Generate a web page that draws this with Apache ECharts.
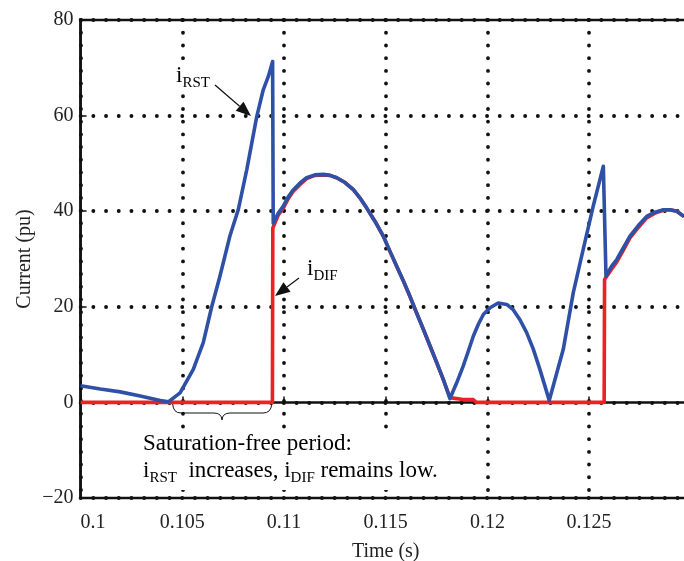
<!DOCTYPE html>
<html>
<head>
<meta charset="utf-8">
<script src="https://cdn.jsdelivr.net/npm/echarts@6/dist/echarts.min.js"></script>
<style>html,body{margin:0;padding:0;background:#fff}#c{width:684px;height:561px}</style>
</head>
<body>
<div id="c"></div>
<script>
// Time (s)
const rstTime = [0.1,0.10097,0.10195,0.10293,0.10392,0.10433,0.10489,0.10554,0.10603,0.10644,0.10685,0.10734,0.10775,0.10817,0.10866,0.10898,0.10923,0.10944,0.10947,0.10972,0.10996,0.11021,0.11046,0.11079,0.11111,0.11152,0.11193,0.11226,0.11259,0.11300,0.11341,0.11373,0.11406,0.11447,0.11488,0.11521,0.11554,0.11587,0.11619,0.11652,0.11685,0.11718,0.11751,0.11783,0.11816,0.11849,0.11881,0.11906,0.11931,0.11955,0.11980,0.12013,0.12053,0.12095,0.12127,0.12160,0.12193,0.12226,0.12258,0.12283,0.12304,0.12373,0.12422,0.12471,0.12520,0.12570,0.12583,0.12611,0.12636,0.12668,0.12701,0.12742,0.12783,0.12824,0.12865,0.12898,0.12931,0.12967];
// i_RST (pu)
const rstValue = [3.5,2.8,2.2,1.35,0.4,0.15,2.0,6.9,12.5,19.9,26.4,34.8,40.3,48.7,59.8,65.4,68.2,71.3,37.5,39.6,41.0,43.0,44.5,45.9,47.0,47.6,47.7,47.5,47.0,46.0,44.5,42.8,40.7,37.9,34.8,31.6,28.5,25.4,22.2,18.7,15.3,11.8,8.3,4.8,0.8,4.1,7.6,10.7,13.9,16.3,18.4,19.8,20.8,20.5,19.4,17.3,14.6,11.1,6.9,3.4,0.4,11.1,22.9,32.0,41.0,49.4,26.4,28.5,29.9,32.3,34.8,37.0,38.9,39.8,40.3,40.3,40.0,38.9];
// Time (s)
const difTime = [0.1,0.10943,0.10945,0.10972,0.10996,0.11021,0.11046,0.11079,0.11111,0.11152,0.11193,0.11226,0.11259,0.11300,0.11341,0.11373,0.11406,0.11447,0.11488,0.11521,0.11554,0.11587,0.11619,0.11652,0.11685,0.11718,0.11751,0.11783,0.11816,0.11880,0.11930,0.11945,0.12574,0.12576,0.12611,0.12636,0.12668,0.12701,0.12742,0.12783,0.12824,0.12865,0.12898,0.12931,0.12967];
// i_DIF (pu)
const difValue = [0,0,36.5,39.2,40.6,42.6,44.2,45.6,46.8,47.5,47.6,47.5,47.0,46.0,44.5,42.8,40.7,37.9,34.8,31.6,28.5,25.4,22.2,18.7,15.3,11.8,8.3,4.8,1.0,0.6,0.6,0,0,25.7,27.9,29.4,31.8,34.4,36.6,38.6,39.6,40.2,40.3,40.0,38.9];
const xTicks = {min:0.1, max:0.13, step:0.005};
const yTicks = {min:-20, max:80, step:20};

const FONT = 'Liberation Serif';
const chart = echarts.init(document.getElementById('c'));
const rst = rstTime.map((t,i)=>[t,rstValue[i]]);
const dif = difTime.map((t,i)=>[t,difValue[i]]);
const gridDots = {show:true, lineStyle:{color:'#111', width:3.8, type:[0.1,12.6], cap:'round'}};

chart.setOption({
  animation:false,
  grid:{left:80.6, top:20, right:-6.8, bottom:63, show:true, borderColor:'#111', borderWidth:2.5,
    containLabel:false, outerBoundsMode:'none'},
  xAxis:{type:'value', min:xTicks.min, max:xTicks.max, interval:xTicks.step,
    name:'Time (s)', nameLocation:'middle', nameGap:44, nameMoveOverlap:false,
    nameTextStyle:{fontFamily:FONT, fontSize:20, color:'#222'},
    axisLine:{lineStyle:{color:'#111', width:2.5}},
    axisTick:{inside:true, length:6, lineStyle:{color:'#111', width:1.5}},
    axisLabel:{fontFamily:FONT, fontSize:20, color:'#222', margin:15, showMaxLabel:false, alignMinLabel:'left',
      formatter:v=>String(+v.toFixed(3))},
    splitLine:gridDots},
  yAxis:{type:'value', min:yTicks.min, max:yTicks.max, interval:yTicks.step,
    name:'Current (pu)', nameLocation:'middle', nameGap:46, nameMoveOverlap:false,
    nameTextStyle:{fontFamily:FONT, fontSize:20, color:'#222'},
    axisLine:{lineStyle:{color:'#111', width:2.5}},
    axisTick:{inside:true, length:6, lineStyle:{color:'#111', width:1.5}},
    axisLabel:{fontFamily:FONT, fontSize:20, color:'#222', margin:7,
      formatter:v=>String(v).replace('-','\u2212')},
    splitLine:gridDots},
  series:[
    {name:'iDIF', type:'line', data:dif, showSymbol:false, lineStyle:{color:'#EC2027', width:3.6, join:'round'}, z:3},
    {name:'iRST', type:'line', data:rst, showSymbol:false, lineStyle:{color:'#2E50A6', width:3.6, join:'round'}, z:4}
  ]
});

function arrow(x1,y1,x2,y2){
  const dx=x2-x1, dy=y2-y1, L=Math.hypot(dx,dy), ux=dx/L, uy=dy/L;
  const hl=15, hw=6;
  const bx=x2-ux*hl, by=y2-uy*hl;
  return [
    {type:'line', shape:{x1:x1,y1:y1,x2:bx,y2:by}, style:{stroke:'#111', lineWidth:1.2}, z:10},
    {type:'polygon', shape:{points:[[x2,y2],[bx-uy*hw,by+ux*hw],[bx+uy*hw,by-ux*hw]]}, style:{fill:'#111'}, z:10}
  ];
}
const rich = {
  n:{fontFamily:FONT, fontSize:23, color:'#222', verticalAlign:'top', lineHeight:27},
  s:{fontFamily:FONT, fontSize:15, color:'#222', verticalAlign:'bottom', lineHeight:15, padding:[14,0,0,0]}
};
const braceStyle = {stroke:'#111', lineWidth:1, fill:null};
chart.setOption({graphic:[
  {type:'text', left:174, top:62, style:{text:'{n|i}{s|RST}', rich:rich, backgroundColor:'#fff', padding:[2,2,0,2]}, z:9},
  ...arrow(215,85,251,116),
  {type:'text', left:305, top:255, style:{text:'{n|i}{s|DIF}', rich:rich, backgroundColor:'#fff', padding:[2,2,0,2]}, z:9},
  ...arrow(299,278,275,296),
  {type:'bezierCurve', shape:{x1:172.7,y1:404,cpx1:173.2,cpy1:413,x2:181,y2:413}, style:braceStyle, z:10},
  {type:'line', shape:{x1:181,y1:413,x2:214,y2:413}, style:braceStyle, z:10},
  {type:'bezierCurve', shape:{x1:214,y1:413,cpx1:221.5,cpy1:413,x2:222,y2:420}, style:braceStyle, z:10},
  {type:'bezierCurve', shape:{x1:222,y1:420,cpx1:222.5,cpy1:413,x2:230,y2:413}, style:braceStyle, z:10},
  {type:'line', shape:{x1:230,y1:413,x2:263,y2:413}, style:braceStyle, z:10},
  {type:'bezierCurve', shape:{x1:263,y1:413,cpx1:271.2,cpy1:413,x2:271.7,y2:404}, style:braceStyle, z:10},
  {type:'text', left:141, top:429, style:{text:'{n|Saturation-free period:}\n{n|i}{s|RST}{n|  increases, i}{s|DIF}{n| remains low.}', rich:rich, backgroundColor:'#fff', padding:[3,2,4,2]}, z:9}
]});
</script>
</body>
</html>
